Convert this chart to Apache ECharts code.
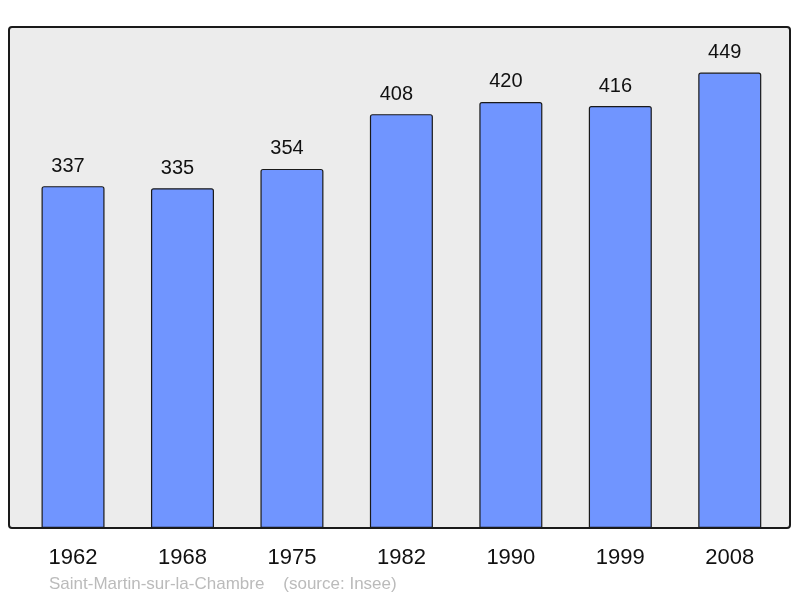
<!DOCTYPE html>
<html>
<head>
<meta charset="utf-8">
<script src="https://cdn.jsdelivr.net/npm/echarts@6/dist/echarts.min.js"></script>
<style>
  html, body { margin: 0; padding: 0; background: #fff; }
  #main { width: 800px; height: 598px; }
</style>
</head>
<body>
<div id="main"></div>
<script>
// années du recensement
var years = ['1962', '1968', '1975', '1982', '1990', '1999', '2008'];
// population
var population = [337, 335, 354, 408, 420, 416, 449];
var yMax = 493.9;

var myChart = echarts.init(document.getElementById('main'));
myChart.setOption({
    animation: false,
    graphic: [
        {
            type: 'rect',
            shape: { x: 9, y: 27, width: 781, height: 501, r: 3 },
            style: { fill: '#ececec', stroke: '#1a1a1a', lineWidth: 2 },
            z: -10
        },
        {
            type: 'text',
            left: 49,
            top: 576,
            style: {
                text: 'Saint-Martin-sur-la-Chambre    (source: Insee)',
                fill: '#bbbbbb',
                font: '17px "Liberation Sans", Arial, sans-serif'
            }
        }
    ],
    grid: {
        left: 18.3,
        right: 15.5,
        top: 27,
        bottom: 70,
        containLabel: false
    },
    xAxis: {
        type: 'category',
        data: years,
        axisLine: { show: false },
        axisTick: { show: false },
        axisLabel: {
            margin: 19,
            color: '#111',
            fontSize: 22,
            fontFamily: '"Liberation Sans", Arial, sans-serif'
        }
    },
    yAxis: {
        type: 'value',
        min: 0,
        max: yMax,
        show: false,
        splitLine: { show: false }
    },
    series: [
        {
            type: 'bar',
            data: population,
            barWidth: 63,
            itemStyle: {
                color: '#7095ff',
                borderColor: '#1a1a1a',
                borderWidth: 1.2,
                borderRadius: [2, 2, 0, 0]
            },
            label: {
                show: true,
                position: 'top',
                distance: 10,
                offset: [-5, 0],
                color: '#111',
                fontSize: 20,
                fontFamily: '"Liberation Sans", Arial, sans-serif'
            }
        }
    ]
});
</script>
</body>
</html>
